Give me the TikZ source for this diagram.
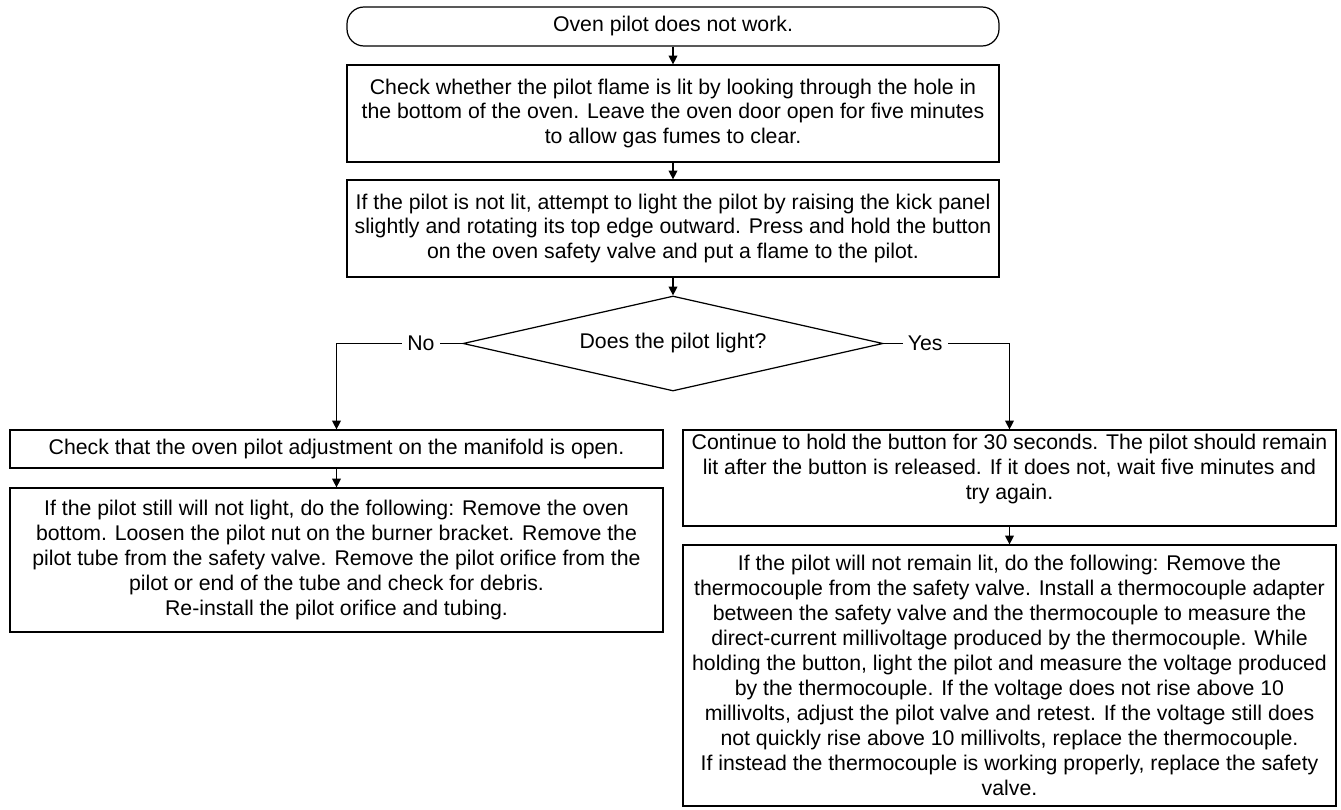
\documentclass[tikz,border=0pt]{standalone}
\usepackage{fontspec}
\setmainfont{Liberation Sans}
\usetikzlibrary{arrows.meta,shapes.geometric}

\tikzset{
  stepbox/.style={draw, line width=0.7pt, align=center, inner sep=2pt,
    font=\fontsize{12.1}{14.2}\selectfont},
  startbox/.style={stepbox, rounded corners=0.34cm},
  askbox/.style={stepbox, diamond, aspect=4.42, inner sep=0pt},
  flow/.style={line width=0.7pt, -{Triangle[length=5pt,width=5pt]}},
  answer/.style={fill=white, inner sep=3pt, font=\fontsize{12.1}{14.2}\selectfont}
}

\begin{document}
\begin{tikzpicture}
            \useasboundingbox (0,0) rectangle (26.82,-16.2);
            \node[startbox, minimum width=13.04cm, minimum height=0.78cm] at (13.46,-0.53) (start) {Oven pilot does not work.};
            \node[stepbox, minimum width=13.04cm, minimum height=1.94cm] at (13.46,-2.27) (look) {Check whether the pilot flame is lit by looking through the hole in\\ the bottom of the oven. Leave the oven door open for five minutes\\ to allow gas fumes to clear.};
            \node[stepbox, minimum width=13.04cm, minimum height=1.94cm] at (13.46,-4.57) (light) {If the pilot is not lit, attempt to light the pilot by raising the kick panel\\ slightly and rotating its top edge outward. Press and hold the button\\ on the oven safety valve and put a flame to the pilot.};
            \node[askbox, minimum width=8.4cm, minimum height=1.9cm] at (13.46,-6.87) (ask) {Does the pilot light?};
            \node[stepbox, minimum width=13.06cm, minimum height=0.76cm] at (6.73,-8.98) (manifold) {Check that the oven pilot adjustment on the manifold is open.};
            \node[stepbox, minimum width=13.06cm, minimum height=2.88cm] at (6.73,-11.2) (orifice) {If the pilot still will not light, do the following: Remove the oven\\ bottom. Loosen the pilot nut on the burner bracket. Remove the\\ pilot tube from the safety valve. Remove the pilot orifice from the\\ pilot or end of the tube and check for debris.\\ Re-install the pilot orifice and tubing.};
            \node[stepbox, minimum width=13.06cm, minimum height=1.92cm] at (20.19,-9.56) (hold) {Continue to hold the button for 30 seconds. The pilot should remain\\ lit after the button is released. If it does not, wait five minutes and\\ try again.\\[-1.4pt]\mbox{}};
            \node[stepbox, minimum width=13.06cm, minimum height=5.22cm] at (20.19,-13.51) (thermo) {If the pilot will not remain lit, do the following: Remove the\\ thermocouple from the safety valve. Install a thermocouple adapter\\ between the safety valve and the thermocouple to measure the\\ direct-current millivoltage produced by the thermocouple. While\\ holding the button, light the pilot and measure the voltage produced\\ by the thermocouple. If the voltage does not rise above 10\\ millivolts, adjust the pilot valve and retest. If the voltage still does\\ not quickly rise above 10 millivolts, replace the thermocouple.\\ If instead the thermocouple is working properly, replace the safety\\ valve.};
            \draw[flow] (start) to (look);
            \draw[flow] (look) to (light);
            \draw[flow] (light) to (ask);
            \draw[flow] (ask.west) -- node[answer, pos=0.33] {No} (ask.west -| manifold.north) -- (manifold.north);
            \draw[flow] (ask.east) -- node[answer, pos=0.33] {Yes} (ask.east -| hold.north) -- (hold.north);
            \draw[flow] (manifold) to (orifice);
            \draw[flow] (hold) to (thermo);
        \end{tikzpicture}
\end{document}
